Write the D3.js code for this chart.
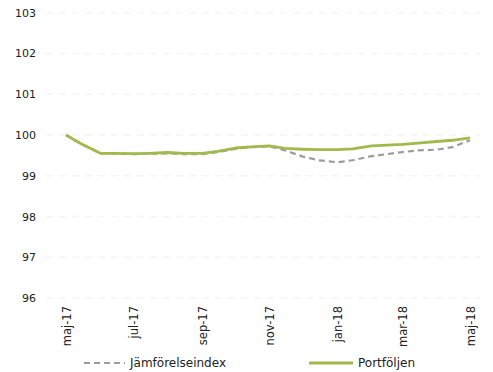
<!DOCTYPE html>
<html>
<head>
<meta charset="utf-8">
<script src="https://cdn.jsdelivr.net/npm/d3@7"></script>
<style>
  html, body { margin: 0; padding: 0; background: #fff; }
  svg { display: block; font-family: "DejaVu Sans", "Open Sans", sans-serif; }
</style>
</head>
<body>
<svg id="chart" width="493" height="372"></svg>
<script>
// Index series, base 100 in May 2017
const dates = [
  "2017-05-01","2017-05-15","2017-06-01","2017-06-15","2017-07-01","2017-07-15",
  "2017-08-01","2017-08-15","2017-09-01","2017-09-15","2017-10-01","2017-10-15",
  "2017-11-01","2017-11-15","2017-12-01","2017-12-15","2018-01-01","2018-01-15",
  "2018-02-01","2018-02-15","2018-03-01","2018-03-15","2018-04-01","2018-04-15",
  "2018-05-01"
];
const portfolio = [
  100.00, 99.78, 99.55, 99.55, 99.54, 99.55,
  99.57, 99.55, 99.55, 99.60, 99.68, 99.71,
  99.73, 99.67, 99.65, 99.64, 99.64, 99.66,
  99.73, 99.75, 99.77, 99.80, 99.84, 99.87,
  99.93
];
const benchmark = [
  100.00, 99.78, 99.55, 99.54, 99.53, 99.54,
  99.55, 99.53, 99.53, 99.58, 99.66, 99.70,
  99.72, 99.62, 99.47, 99.38, 99.33, 99.38,
  99.48, 99.53, 99.58, 99.62, 99.64, 99.70,
  99.87
];
const yTicks = [96, 97, 98, 99, 100, 101, 102, 103];
const xTickLabels = ["maj-17", "jul-17", "sep-17", "nov-17", "jan-18", "mar-18", "maj-18"];
const xTickDates = ["2017-05-01","2017-07-01","2017-09-01","2017-11-01","2018-01-01","2018-03-01","2018-05-01"];
const seriesNames = ["Jämförelseindex", "Portföljen"];

const parse = d3.timeParse("%Y-%m-%d");
const svg = d3.select("#chart");

const x = d3.scaleTime()
  .domain([parse("2017-05-01"), parse("2018-05-01")])
  .range([66, 470]);
const y = d3.scaleLinear()
  .domain([96, 103])
  .range([298, 12.7]);

// faint dashed gridlines
svg.append("g")
  .selectAll("line")
  .data(yTicks)
  .join("line")
  .attr("x1", 46).attr("x2", 480)
  .attr("y1", d => y(d)).attr("y2", d => y(d))
  .attr("stroke", "#f5f5f5")
  .attr("stroke-width", 1.5)
  .attr("stroke-dasharray", "7,6");

// y axis labels
const yAxis = d3.axisLeft(y).tickValues(yTicks).tickFormat(d3.format("d")).tickSize(0).tickPadding(0);
const gy = svg.append("g").attr("transform", "translate(36,0)").call(yAxis);
gy.select(".domain").remove();
gy.selectAll("text")
  .attr("fill", "#222")
  .style("font-size", "11px")
  .style("font-family", "'DejaVu Sans', sans-serif");

// x axis labels, rotated
const xAxis = d3.axisBottom(x)
  .tickValues(xTickDates.map(parse))
  .tickFormat((d, i) => xTickLabels[i])
  .tickSize(0).tickPadding(0);
const gx = svg.append("g").attr("transform", "translate(0,304)").call(xAxis);
gx.select(".domain").remove();
gx.selectAll("text")
  .attr("transform", "rotate(-90)")
  .attr("text-anchor", "end")
  .attr("dy", "0.35em")
  .attr("x", -2)
  .attr("y", 0)
  .attr("fill", "#222")
  .style("font-size", "11.5px")
  .style("font-family", "'DejaVu Sans', sans-serif");

const line = d3.line()
  .x((d, i) => x(parse(dates[i])))
  .y(d => y(d));

svg.append("path")
  .datum(benchmark)
  .attr("d", line)
  .attr("fill", "none")
  .attr("stroke", "#9c9c9c")
  .attr("stroke-width", 2.2)
  .attr("stroke-dasharray", "6,4");

svg.append("path")
  .datum(portfolio)
  .attr("d", line)
  .attr("fill", "none")
  .attr("stroke", "#a2b94c")
  .attr("stroke-width", 2.8)
  .attr("stroke-linejoin", "round");

// legend
const legend = svg.append("g").attr("transform", "translate(0,363)");
legend.append("line")
  .attr("x1", 84).attr("x2", 125).attr("y1", 0).attr("y2", 0)
  .attr("stroke", "#9c9c9c").attr("stroke-width", 2.2).attr("stroke-dasharray", "6,4");
legend.append("text")
  .attr("x", 130).attr("y", 0).attr("dy", "0.35em")
  .attr("fill", "#222").style("font-size", "12px")
  .text(seriesNames[0]);
legend.append("line")
  .attr("x1", 309).attr("x2", 353).attr("y1", 0).attr("y2", 0)
  .attr("stroke", "#a2b94c").attr("stroke-width", 2.8);
legend.append("text")
  .attr("x", 358).attr("y", 0).attr("dy", "0.35em")
  .attr("fill", "#222").style("font-size", "12px")
  .text(seriesNames[1]);
</script>
</body>
</html>
